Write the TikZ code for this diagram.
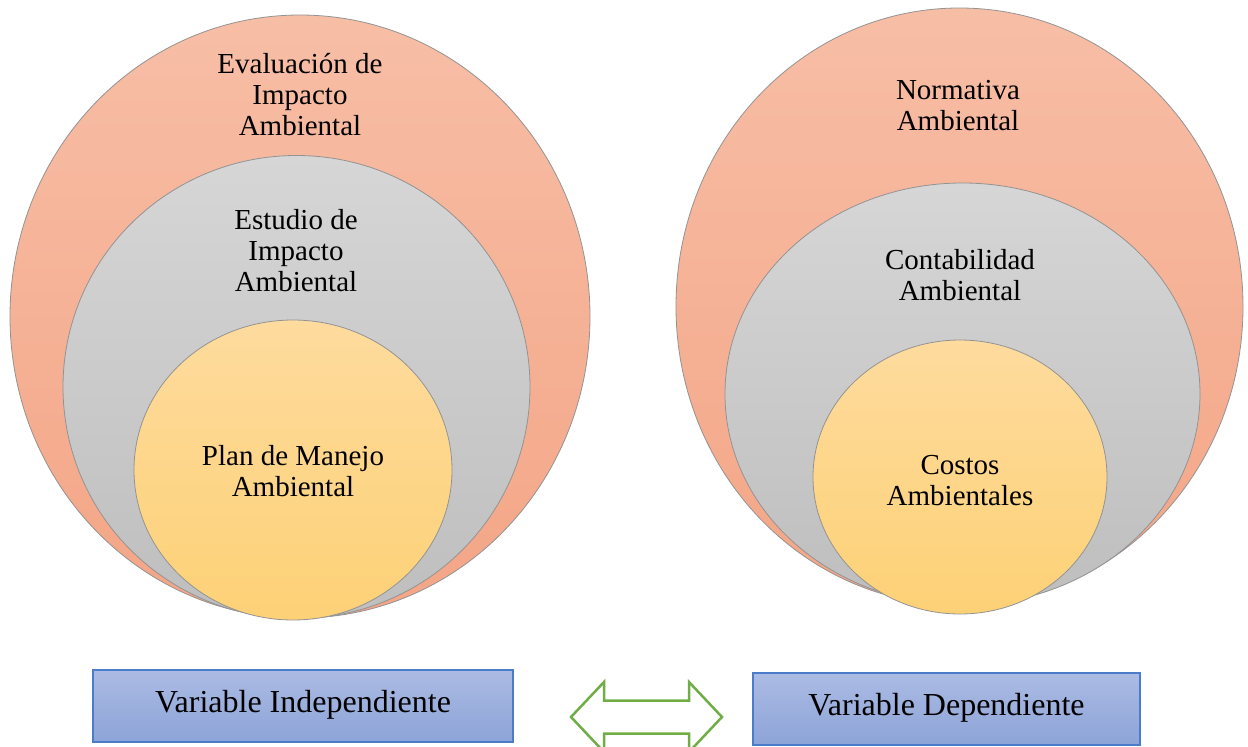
\documentclass[tikz,border=0pt]{standalone}
\usepackage{fontspec}
\setmainfont{Liberation Serif}
\usepackage{tikz}
\usetikzlibrary{shapes.geometric,positioning}
\definecolor{salmonTop}{HTML}{F7BEA6}
\definecolor{salmonBot}{HTML}{F4A586}
\definecolor{greyTop}{HTML}{D6D6D6}
\definecolor{greyBot}{HTML}{BEBEBE}
\definecolor{goldTop}{HTML}{FEDB9E}
\definecolor{goldBot}{HTML}{FDD176}
\definecolor{blueTop}{HTML}{ABBBE3}
\definecolor{blueBot}{HTML}{8DA4D8}
\definecolor{blueLine}{HTML}{4A7CC9}
\definecolor{arrowGreen}{HTML}{70AD47}
\newcommand{\boxtext}[1]{\raisebox{9pt}{#1}}

\begin{document}
\begin{tikzpicture}[x=1pt,y=-1pt,
	bubble/.style={ellipse,draw=gray!85,line width=.8pt,inner sep=0pt},
	outer/.style={bubble,top color=salmonTop,bottom color=salmonBot},
	middle/.style={bubble,top color=greyTop,bottom color=greyBot},
	inner/.style={bubble,top color=goldTop,bottom color=goldBot},
	label/.style={align=center,font=\fontsize{29}{31}\selectfont},
	varbox/.style={rectangle,draw=blueLine,line width=1.5pt,top color=blueTop,bottom color=blueBot,
		minimum height=72pt,font=\fontsize{32}{36}\selectfont}]
	\useasboundingbox (0,0) rectangle (1248,747);
	
	% left set of circles
	\node[outer,minimum width=580pt,minimum height=603pt] (eia) at (300,316.5) {};
	\node[middle,minimum width=467pt,minimum height=463pt] (esia) at (296.5,387) {};
	\node[inner,minimum width=318pt,minimum height=300pt] (pma) at (293,470) {};
	\node[label] (eiaText) at (300,95) {Evaluación de\\Impacto\\Ambiental};
	\node[label] (esiaText) at (296,251) {Estudio de\\Impacto\\Ambiental};
	\node[label] (pmaText) at (293,471) {Plan de Manejo\\Ambiental};
	
	% right set of circles
	\node[outer,minimum width=567pt,minimum height=597pt] (norma) at (959.5,306.5) {};
	\node[middle,minimum width=475pt,minimum height=422pt] (conta) at (962.5,394) {};
	\node[inner,minimum width=294pt,minimum height=274pt] (costos) at (960,477) {};
	\node[label] (normaText) at (958,106) {Normativa\\Ambiental};
	\node[label] (contaText) at (960,275) {Contabilidad\\Ambiental};
	\node[label] (costosText) at (960,481) {Costos\\Ambientales};
	
	% variables
	\node[varbox,minimum width=420pt] (indep) at (303,706) {\boxtext{Variable Independiente}};
	\node[varbox,minimum width=387pt] (dep) at (946.5,709) {\boxtext{Variable Dependiente}};
	\coordinate (link) at (646.5,717);
	\draw[arrowGreen,line width=2.5pt,fill=white,shift={(link)}]
		(-75.5,0)--(-42.5,-35)--(-42.5,-16.5)--(42.5,-16.5)--(42.5,-35)--(75.5,0)
		--(42.5,35)--(42.5,16.5)--(-42.5,16.5)--(-42.5,35)--cycle;
	
\end{tikzpicture}
\end{document}
